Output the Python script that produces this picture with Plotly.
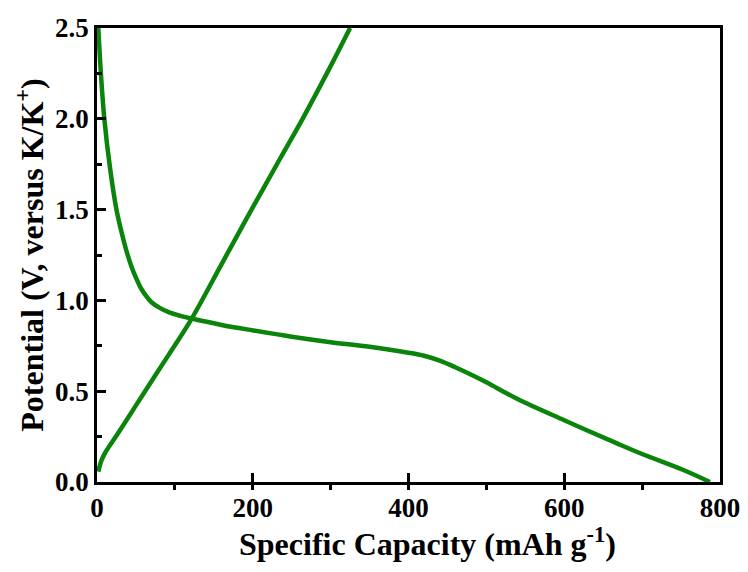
import plotly.graph_objects as go

# Discharge curve (potential drops from 2.5 V to 0 V)
discharge_capacity = [1.7, 5, 9.4, 17, 25, 31, 38, 44, 50, 56, 62, 70, 80, 92, 107, 121.6, 160, 200, 250, 300, 350, 400, 420, 440, 460, 480, 500, 540, 600, 667, 700, 753, 787]
discharge_voltage = [2.5, 2.25, 2.0, 1.72, 1.5, 1.385, 1.27, 1.19, 1.125, 1.07, 1.03, 0.99, 0.96, 0.935, 0.915, 0.90, 0.865, 0.835, 0.80, 0.77, 0.745, 0.712, 0.695, 0.668, 0.632, 0.592, 0.549, 0.457, 0.34, 0.214, 0.154, 0.066, 0.0]

# Charge curve (potential rises from ~0.06 V to 2.5 V)
charge_capacity = [1.7, 5, 10, 27, 49, 70, 92, 121.6, 160, 192, 235, 264, 300, 325]
charge_voltage = [0.057, 0.11, 0.158, 0.268, 0.415, 0.555, 0.70, 0.90, 1.20, 1.45, 1.78, 2.0, 2.29, 2.5]

x_ticks = [0, 200, 400, 600, 800]
x_tick_labels = ["0", "200", "400", "600", "800"]
y_ticks = [0.0, 0.5, 1.0, 1.5, 2.0, 2.5]
y_tick_labels = ["0.0", "0.5", "1.0", "1.5", "2.0", "2.5"]

line_color = "#0a840a"
font_family = "Liberation Serif"

fig = go.Figure()
for xs, ys in [(discharge_capacity, discharge_voltage), (charge_capacity, charge_voltage)]:
    fig.add_trace(go.Scatter(x=xs, y=ys, mode="lines",
                             line=dict(color=line_color, width=4.5, shape="spline", smoothing=1.0),
                             showlegend=False, cliponaxis=True))

# the page adds an 8px body margin, so the margins are offset to compensate
fig.update_layout(
    width=748, height=572,
    margin=dict(l=89, r=36, t=20, b=98),
    paper_bgcolor="white", plot_bgcolor="white",
    font=dict(family=font_family, color="black"),
)
fig.update_xaxes(
    range=[0, 800], tickvals=x_ticks, ticktext=["<b>%s</b>" % t for t in x_tick_labels],
    showgrid=False, zeroline=False, automargin=False,
    showline=True, linewidth=2.5, linecolor="black", mirror=True,
    ticks="inside", ticklen=9, tickwidth=2.5, tickcolor="black",
    minor=dict(ticks="outside", ticklen=5, tickwidth=2.5, tickcolor="black", dtick=100, showgrid=False),
    tickfont=dict(size=27, family=font_family),
)
fig.update_yaxes(
    range=[0, 2.5], tickvals=y_ticks, ticktext=["<b>%s</b>" % t for t in y_tick_labels],
    showgrid=False, zeroline=False, automargin=False,
    showline=True, linewidth=2.5, linecolor="black", mirror=True,
    ticks="inside", ticklen=9, tickwidth=2.5, tickcolor="black",
    minor=dict(ticks="inside", ticklen=5, tickwidth=2.5, tickcolor="black", dtick=0.25, showgrid=False),
    tickfont=dict(size=27, family=font_family),
    title=dict(text="<b>Potential (V, versus K/K<sup>+</sup>)</b>", font=dict(size=32, family=font_family), standoff=2),
)
# x-axis title, placed slightly right of centre as in the original
fig.add_annotation(
    text="<b>Specific Capacity (mAh g<sup>-1</sup>)</b>",
    xref="paper", yref="paper", x=0.53, y=0, xanchor="center", yanchor="middle",
    yshift=-60, showarrow=False, font=dict(size=32, family=font_family, color="black"),
)

fig.write_html("out.html")
